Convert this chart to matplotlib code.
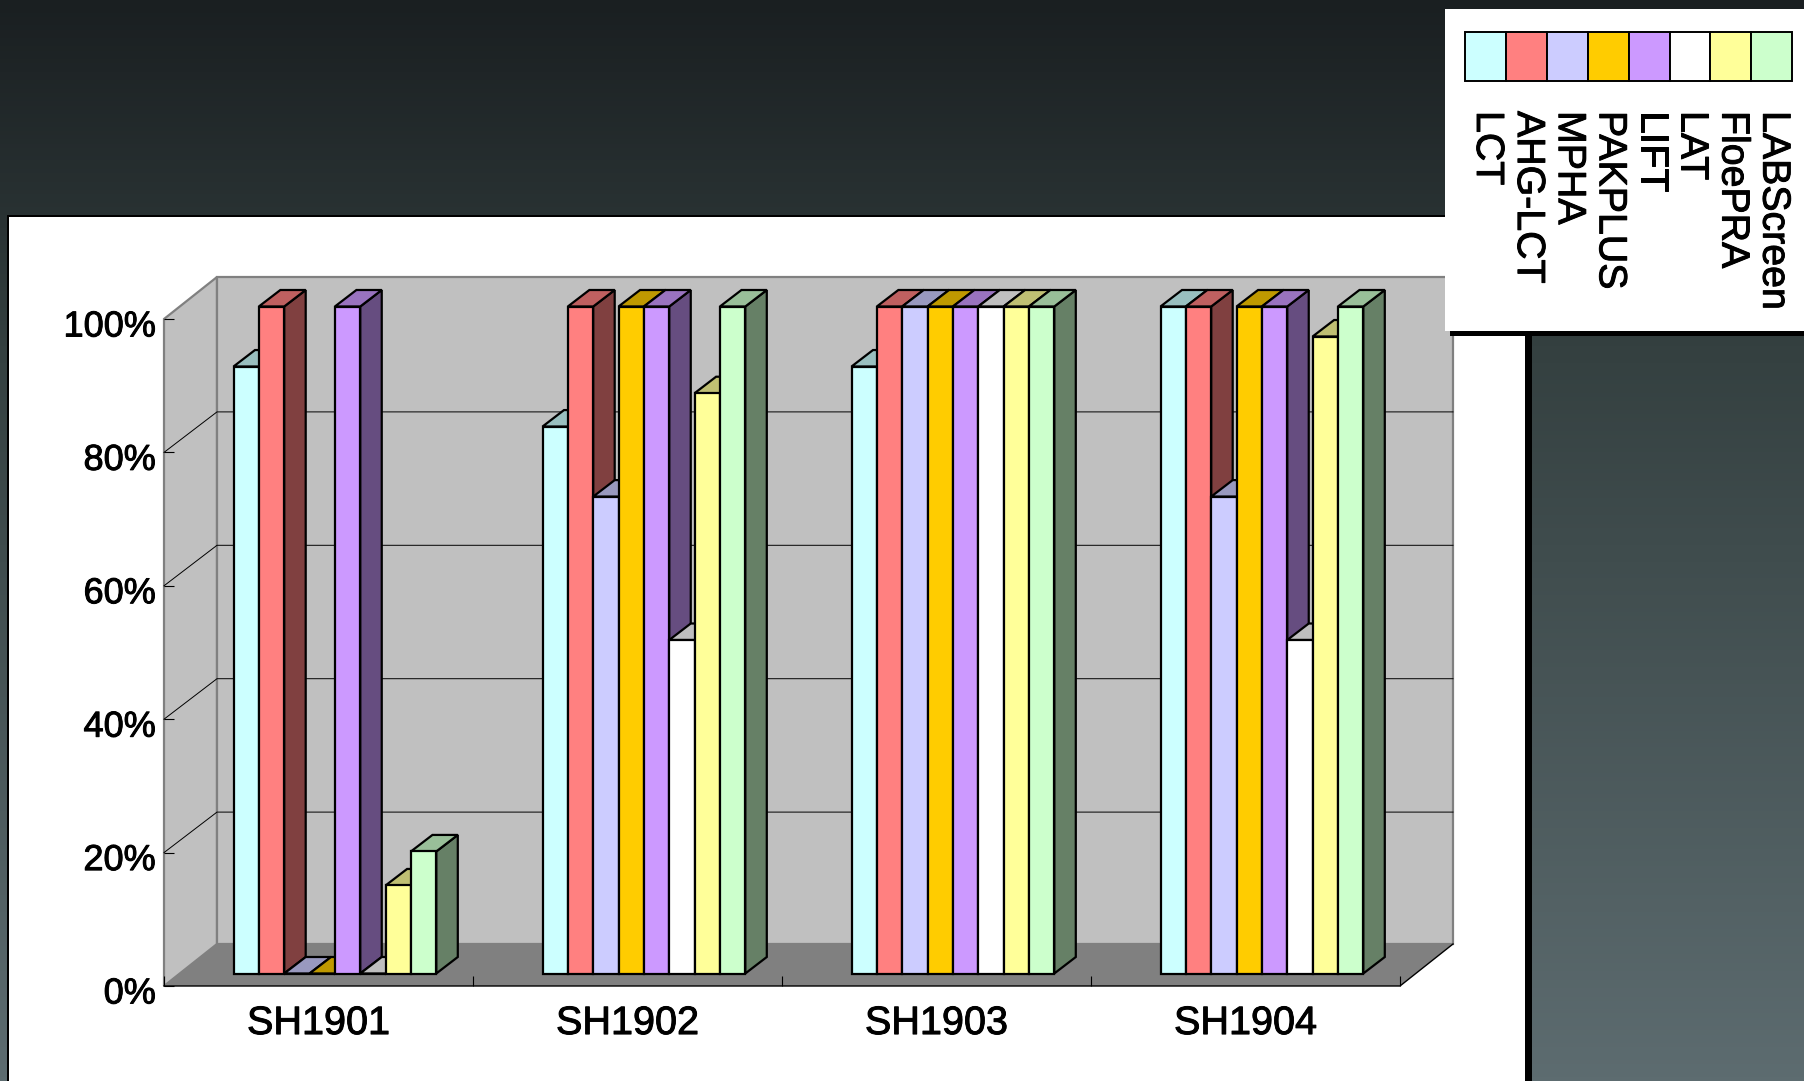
import numpy as np
import matplotlib
matplotlib.use('Agg')
import matplotlib.pyplot as plt
import matplotlib.patheffects as pe
from matplotlib.patches import Polygon, Rectangle
from matplotlib.transforms import ScaledTranslation
from matplotlib.colors import to_rgb, LinearSegmentedColormap

W = 1804
H = 1081

groups = ['SH1901', 'SH1902', 'SH1903', 'SH1904']
methods = ['LCT', 'AHG-LCT', 'MPHA', 'PAKPLUS', 'LIFT', 'LAT', 'FloePRA', 'LABScreen']
colors = ['#CCFFFF', '#FF8080', '#CCCCFF', '#FFCC00', '#CC99FF', '#FFFFFF', '#FFFF99', '#CCFFCC']

lct = [91, 82, 91, 100]
ahg = [100, 100, 100, 100]
mpha = [0, 71.5, 100, 71.5]
pakplus = [0, 100, 100, 100]
lift = [100, 100, 100, 100]
lat = [0, 50, 100, 50]
floepra = [13.2, 87, 100, 95.5]
labscreen = [18.3, 100, 100, 100]
series = [lct, ahg, mpha, pakplus, lift, lat, floepra, labscreen]

yticks = [0, 20, 40, 60, 80, 100]
ylabels = ['0%', '20%', '40%', '60%', '80%', '100%']

plt.rcParams['font.family'] = ['Liberation Sans', 'DejaVu Sans']
heavy = [pe.withStroke(linewidth=0.7, foreground='black')]

fig = plt.figure(figsize=(W / 100, H / 100), dpi=100)

# slide background and white panel, in pixels
bg = fig.add_axes([0, 0, 1, 1])
bg.set_xlim(0, W)
bg.set_ylim(H, 0)
bg.axis('off')
cmap = LinearSegmentedColormap.from_list('slide', [(0, '#1a1f21'), (0.2, '#293233'), (0.32, '#344040'), (1, '#5d6c70')])
bg.imshow(np.linspace(0, 1, 256).reshape(-1, 1), cmap=cmap, extent=[0, W, H, 0], aspect='auto')
bg.add_patch(Rectangle((7, 215), 1525, 870, fc='black', ec='none'))
bg.add_patch(Rectangle((9, 217), 1516, 870, fc='white', ec='none'))

# front plane of the 3d box: x 164-1400, y 319-986
ax = fig.add_axes([164 / W, 1 - 986 / H, 1236 / W, 667 / H])
ax.set_xlim(0, 4)
ax.set_ylim(0, 100)
ax.patch.set_visible(False)
for s in ax.spines.values():
    s.set_visible(False)

wall_dx = 53 / 309
wall_dy = 42 / 6.67
grid_dy = 40.5 / 6.67
bar_dx = 21.5 / 309
bar_dy = 16.5 / 6.67
base_x = 69.5 / 309
base_y = 12.5 / 6.67
bar_w = 25.35 / 309
wall_line = '#808080'

ax.add_patch(Polygon([(0, 0), (wall_dx, wall_dy), (wall_dx, 100 + wall_dy), (0, 100)],
                     fc='#C0C0C0', ec=wall_line, lw=1.6, clip_on=False, zorder=1))
ax.add_patch(Polygon([(wall_dx, wall_dy), (4 + wall_dx, wall_dy), (4 + wall_dx, 100 + wall_dy),
                      (wall_dx, 100 + wall_dy)],
                     fc='#C0C0C0', ec=wall_line, lw=1.6, clip_on=False, zorder=1))
ax.add_patch(Polygon([(0, 0), (4, 0), (4 + wall_dx, wall_dy), (wall_dx, wall_dy)],
                     fc='#808080', ec='none', clip_on=False, zorder=1.5))
for v in yticks[1:-1]:
    ax.plot([0, wall_dx, 4 + wall_dx], [v, v + grid_dy, v + grid_dy], color='black', lw=0.7,
            clip_on=False, zorder=1.6)
ax.plot([0, 4, 4 + wall_dx], [0, 0, wall_dy], color='black', lw=1, clip_on=False, zorder=1.7)


def shade(c, f):
    return tuple(x * f for x in to_rgb(c))


z = 2
for g in range(len(groups)):
    for m in range(len(methods)):
        v = series[m][g]
        x0 = g + base_x + m * bar_w
        x1 = x0 + bar_w
        top = base_y + v
        c = colors[m]
        if v > 0:
            ax.add_patch(Polygon([(x1, base_y), (x1 + bar_dx, base_y + bar_dy),
                                  (x1 + bar_dx, top + bar_dy), (x1, top)],
                                 fc=shade(c, 0.5), ec='black', lw=1.6, clip_on=False, zorder=z))
        ax.add_patch(Polygon([(x0, top), (x0 + bar_dx, top + bar_dy), (x1 + bar_dx, top + bar_dy), (x1, top)],
                             fc=shade(c, 0.75), ec='black', lw=1.6, clip_on=False, zorder=z))
        ax.bar(x0, v, bar_w, bottom=base_y, align='edge', color=c, edgecolor='black', lw=1.6,
               clip_on=False, zorder=z + 0.5)
        z += 1

ax.set_xticks(range(5))
ax.set_xticklabels([])
ax.set_xticks([i + 0.5 for i in range(4)], groups, minor=True)
ax.set_yticks(yticks, ylabels)
ax.tick_params(axis='x', which='major', direction='in', length=7, width=0.8)
ax.tick_params(axis='x', which='minor', length=0, labelsize=28.5, pad=13)
ax.tick_params(axis='y', direction='in', length=7, width=0.8, labelsize=26, pad=6)
for lab in ax.get_yticklabels():
    lab.set_transform(lab.get_transform() + ScaledTranslation(0, -4 / 100, fig.dpi_scale_trans))
    lab.set_path_effects(heavy)
for lab in ax.get_xticklabels(which='minor'):
    lab.set_path_effects(heavy)

# legend box on top, in pixels
top = fig.add_axes([0, 0, 1, 1])
top.set_xlim(0, W)
top.set_ylim(H, 0)
top.axis('off')
top.patch.set_visible(False)
top.add_patch(Rectangle((1445, 9), 360, 322, fc='white', ec='none'))
top.add_patch(Rectangle((1450, 331), 355, 5, fc='black', ec='none'))
cell = 40.9
for i, (name, c) in enumerate(zip(methods, colors)):
    x = 1465 + i * cell
    top.add_patch(Rectangle((x, 32), cell, 49, fc=c, ec='black', lw=1.4))
    top.text(x + 22, 111, name, rotation=270, ha='center', va='top', fontsize=28.3, color='black',
             path_effects=heavy)

fig.savefig('out.png', dpi=100)
